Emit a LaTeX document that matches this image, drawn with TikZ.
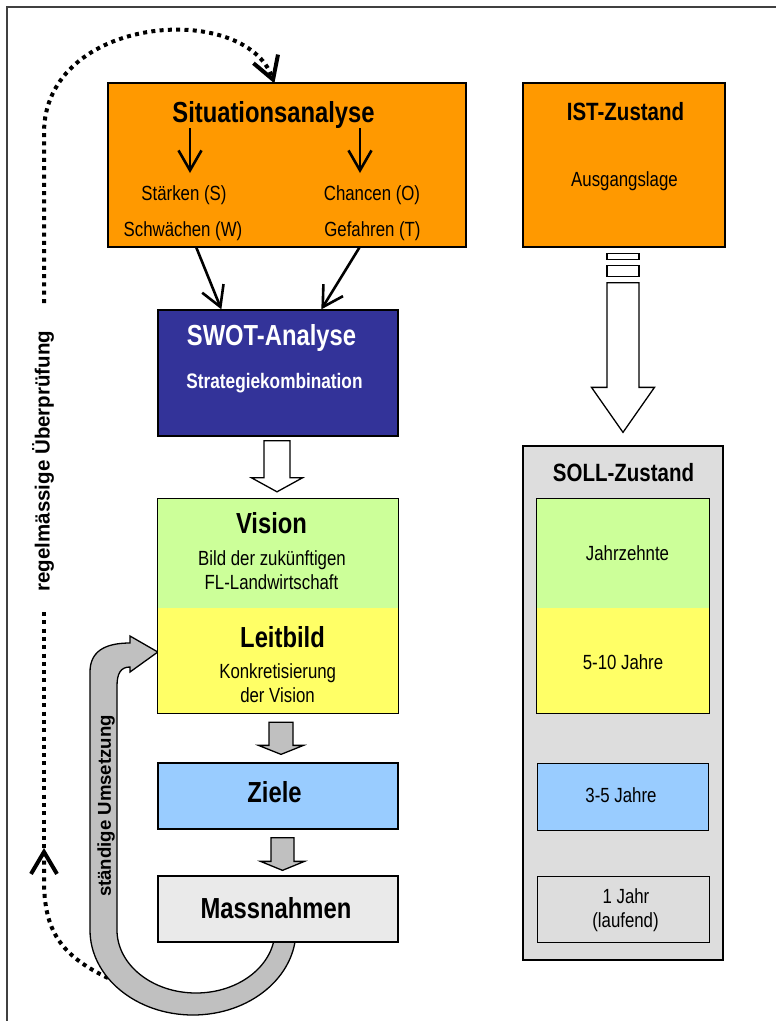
\documentclass[tikz,border=0pt]{standalone}
\usepackage{fontspec}
\setmainfont[FakeStretch=0.82]{Liberation Sans}
\newfontfamily\widefont{Liberation Sans}
\usepackage{tikz}
\usetikzlibrary{arrows.meta,calc,backgrounds}
\definecolor{sitorange}{HTML}{FF9900}
\definecolor{swotblue}{HTML}{333399}
\definecolor{visgreen}{HTML}{CCFF99}
\definecolor{leityellow}{HTML}{FFFF66}
\definecolor{zielblue}{HTML}{99CCFF}
\definecolor{massgray}{HTML}{EAEAEA}
\definecolor{sollgray}{HTML}{DDDDDD}
\definecolor{bandgray}{HTML}{C0C0C0}
\tikzstyle{box}=[draw=black,line width=1.3pt,inner sep=0pt]
\tikzstyle{fillbox}=[inner sep=0pt]
\tikzstyle{bigtitle}=[anchor=base,inner sep=0pt,font=\bfseries\fontsize{29}{34}\selectfont]
\tikzstyle{midtitle}=[anchor=base,inner sep=0pt,font=\bfseries\fontsize{25}{30}\selectfont]
\tikzstyle{boxtext}=[anchor=base,inner sep=0pt,font=\fontsize{20.5}{24}\selectfont]
\tikzstyle{boldtext}=[anchor=base,inner sep=0pt,font=\bfseries\fontsize{21}{25}\selectfont]
\tikzstyle{sidetext}=[rotate=90,inner sep=0pt,font=\widefont\bfseries\fontsize{20.5}{24}\selectfont]
\tikzstyle{thin arrow}=[draw,line width=2.6pt,-{Straight Barb[length=20pt,width=23pt]}]
\tikzstyle{loop line}=[draw,line width=4pt,dash pattern=on 4pt off 4.3pt]
\tikzstyle{loop arrow}=[loop line,-{Straight Barb[length=22pt,width=26pt]}]
\tikzstyle{white arrow}=[draw=black,line width=1.3pt,fill=white]
\tikzstyle{gray arrow}=[draw=black,line width=1.3pt,fill=bandgray]
% block arrow: style, from, to, half shaft, half head, head length
\newcommand{\fatarrow}[6]{%
  \path[#1] let \p1=(#2), \p2=(#3) in
    (\x1-#4,\y1) -- (\x1+#4,\y1) -- (\x1+#4,\y2+#6) -- (\x1+#5,\y2+#6)
    -- (\x1,\y2) -- (\x1-#5,\y2+#6) -- (\x1-#4,\y2+#6) -- cycle;}

\begin{document}
\begin{tikzpicture}[x=1pt,y=-1pt]
    \useasboundingbox (0,0) rectangle (776,1021);
    \draw[line width=1.5pt,black!75] (7,1021) -- (7,7) -- (776,7);

    % left column
    \node[box,fill=sitorange,minimum width=358,minimum height=164] (sit) at (287,165) {};
    \node[box,fill=swotblue,minimum width=240,minimum height=126] (swot) at (278,373) {};
    \node[fillbox,fill=visgreen,minimum width=240,minimum height=109] (vision) at (278,553.5) {};
    \node[fillbox,fill=leityellow,minimum width=240,minimum height=105] (leit) at (278,660.5) {};
    \draw[line width=1.3pt] (vision.north west) rectangle (leit.south east);
    \node[box,fill=zielblue,minimum width=240,minimum height=66] (ziele) at (278,796) {};
    \node[box,fill=massgray,minimum width=240,minimum height=66] (mass) at (278,909) {};

    % right column
    \node[box,fill=sitorange,minimum width=202,minimum height=164] (ist) at (624,165) {};
    \node[box,fill=sollgray,minimum width=200,minimum height=514] (soll) at (623,703) {};
    \node[fillbox,fill=visgreen,minimum width=172,minimum height=109] (jahrz) at (623,553.5) {};
    \node[fillbox,fill=leityellow,minimum width=172,minimum height=105] (fuenf) at (623,660.5) {};
    \draw[line width=1pt] (jahrz.north west) rectangle (fuenf.south east);
    \node[box,line width=1pt,fill=zielblue,minimum width=171,minimum height=67] (drei) at (622.5,796.5) {};
    \node[box,line width=1pt,fill=sollgray,minimum width=172,minimum height=66] (eins) at (623,909) {};

    % texts
    \foreach \pos/\name/\txt in {{(273.5,122)/sitT/Situationsanalyse},
        {(271.5,533)/visT/Vision}, {(282.5,647)/leitT/Leitbild}, {(274.5,802)/zieleT/Ziele},
        {(276,918)/massT/Massnahmen}}
        \node[bigtitle] (\name) at \pos {\txt};
    \foreach \pos/\name/\txt in {{(625.5,120)/istT/IST-Zustand}, {(623.5,481)/sollT/SOLL-Zustand}}
        \node[midtitle] (\name) at \pos {\txt};
    \foreach \pos/\name/\txt in {{(184,200)/stS/Stärken (S)}, {(183,236.5)/stW/Schwächen (W)},
        {(372,200)/stO/Chancen (O)}, {(372.5,236.5)/stT/Gefahren (T)},
        {(624.5,186.7)/istA/Ausgangslage},
        {(272,565)/visA/Bild der zukünftigen}, {(271.5,589)/visB/FL-Landwirtschaft},
        {(277.7,678)/leitA/Konkretisierung}, {(277.5,702)/leitB/der Vision},
        {(627.5,560)/jahrzT/Jahrzehnte}, {(623,669)/fuenfT/5-10 Jahre},
        {(621,802)/dreiT/3-5 Jahre}, {(626,903)/einsA/1 Jahr}, {(625.5,927)/einsB/(laufend)}}
        \node[boxtext] (\name) at \pos {\txt};
    \node[bigtitle,white] (swotT) at (271.5,345) {SWOT-Analyse};
    \node[boldtext,white] (swotS) at (274.5,388) {Strategiekombination};

    % arrows inside the situation box
    \foreach \x in {190,360}
        \draw[thin arrow] (\x,128) -- (\x,173);
    \draw[thin arrow] ($(sit.south west)+(89,0)$) -- ($(swot.north west)+(64,0)$);
    \draw[thin arrow] ($(sit.south west)+(252,0)$) -- ($(swot.north west)+(164,0)$);

    % block arrows
    \fatarrow{white arrow}{$(swot.south)+(-1,4)$}{$(vision.north)+(0,-7)$}{13}{25.5}{14}
    \fatarrow{gray arrow}{$(leit.south)+(3,9)$}{$(ziele.north)+(0,-8)$}{12}{22.5}{9}
    \fatarrow{gray arrow}{$(ziele.south)+(4.5,8)$}{$(mass.north)+(0,-5)$}{11.5}{22}{9}
    \draw[white arrow] ($(ist.south)+(-17,6)$) rectangle ++(32,6);
    \draw[white arrow] ($(ist.south)+(-17,18)$) rectangle ++(32,11);
    \fatarrow{white arrow}{$(ist.south)+(-1,35)$}{$(soll.north)+(0,-13)$}{16}{31.5}{45}

    % control loops
    \coordinate (sitIn) at ($(sit.north west)+(167,1)$);
    \draw[loop arrow] (44,303) -- (44,133) .. controls (44,15) and (245,0) .. (sitIn);
    \draw[loop line] (44,612) -- (44,848);
    \node[sidetext] (regel) at (43,461) {regelmässige Überprüfung};
    \begin{scope}[on background layer]
        \draw[loop arrow] (108,978) .. controls (60,955) and (44,930) .. (44,880) -- (44,848);
        \path[gray arrow] (296,930) arc[start angle=0,end angle=180,x radius=103,y radius=85]
            -- (90,672) .. controls (90,652) and (104,643) .. (130,643)
            -- (130,636) -- ($(leit.west)+(0,-8.5)$) -- (130,672) -- (130,667)
            .. controls (121,667) and (117,673) .. (117,686)
            -- (117,930) arc[start angle=180,end angle=0,x radius=79,y radius=63] -- cycle;
    \end{scope}
    \node[sidetext,font=\widefont\bfseries\fontsize{18.6}{22}\selectfont] (umsetz) at (106,806) {ständige Umsetzung};
\end{tikzpicture}
\end{document}
